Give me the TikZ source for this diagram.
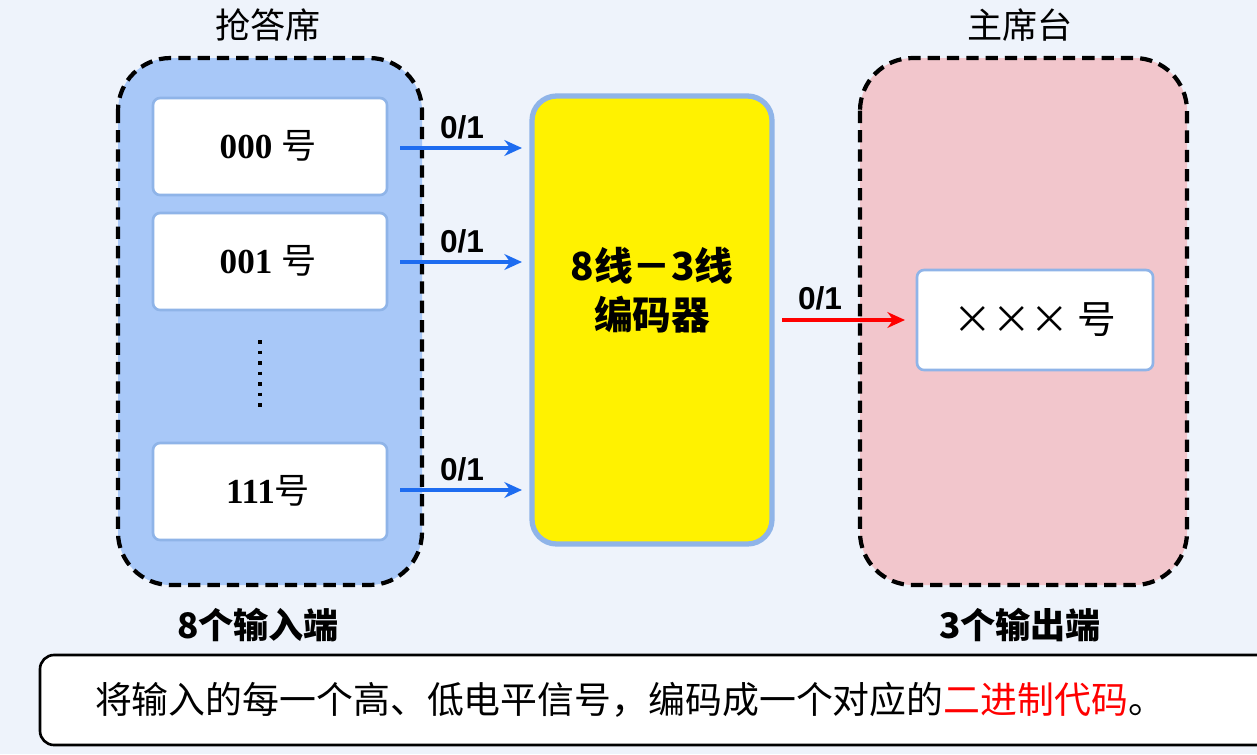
\documentclass[tikz,border=0pt]{standalone}
\usepackage{fontspec}
\setmainfont{Liberation Sans}
\newfontfamily\cjk{Noto Sans CJK SC}
\newfontfamily\serifnum{Liberation Serif}
\usetikzlibrary{arrows.meta}
\definecolor{bgblue}{HTML}{EEF3FB}
\definecolor{panelblue}{HTML}{A8C8F8}
\definecolor{edgeblue}{HTML}{8FB4E8}
\definecolor{panelpink}{HTML}{F2C6CC}
\definecolor{arrowblue}{HTML}{1E6CF0}
\tikzset{
  panel/.style = {draw=black, line width=2.4pt, dash pattern=on 7pt off 4pt, rounded corners=30pt},
  slot/.style = {draw=edgeblue, line width=1.5pt, fill=white, rounded corners=4pt},
  sig/.style = {-{Stealth[length=10pt,width=9pt]}, line width=2.4pt, draw=arrowblue},
  siglabel/.style = {font=\bfseries\fontsize{18}{18}\selectfont},
  title/.style = {font=\cjk\fontsize{20}{20}\selectfont},
}
\begin{document}
\begin{tikzpicture}[x=0.02cm, y=-0.02cm]
  \useasboundingbox (0,0) rectangle (1257,754);
  \fill[bgblue] (0,0) rectangle (1257,754);

  % input panel
  \filldraw[panel, fill=panelblue] (118,58) rectangle (422,585);
  \node[title] (intitle) at (268,25) {抢答席};
  \filldraw[slot] (153,98) rectangle (387,195);
  \node (in0) at (268,146) {\serifnum\bfseries\fontsize{20}{20}\selectfont 000 {\cjk\mdseries 号}};
  \filldraw[slot] (153,213) rectangle (387,310);
  \node (in1) at (268,261) {\serifnum\bfseries\fontsize{20}{20}\selectfont 001 {\cjk\mdseries 号}};
  \filldraw[slot] (153,443) rectangle (387,540);
  \node (in7) at (268,491) {\serifnum\bfseries\fontsize{20}{20}\selectfont 111{\cjk\mdseries 号}};
  \draw[line width=2pt, dash pattern=on 2pt off 4pt] (260,340) -- (260,410);
  \node[font=\cjk\bfseries\fontsize{20}{20}\selectfont] (incount) at (258,625) {8个输入端};

  % encoder
  \filldraw[draw=edgeblue, line width=3pt, fill=yellow, rounded corners=14pt] (532,96) rectangle (772,544);
  \node[font=\cjk\bfseries\fontsize{22}{22}\selectfont, align=center] (enc) at (652,290) {8线－3线\\[6pt]编码器};

  % input signals
  \foreach \y in {148,262,490} {
    \coordinate (a\y) at (400,\y);
    \coordinate (b\y) at (522,\y);
    \draw[sig] (a\y) -- (b\y);
    \node[siglabel] at (462,\y-21) {0/1};
  }

  % output panel
  \filldraw[panel, fill=panelpink] (860,58) rectangle (1187,585);
  \node[title] (outtitle) at (1020,25) {主席台};
  \filldraw[slot] (917,270) rectangle (1153,370);
  \node[font=\cjk\fontsize{22}{22}\selectfont] (out) at (1035,320) {××× 号};
  \node[font=\cjk\bfseries\fontsize{20}{20}\selectfont] (outcount) at (1020,625) {3个输出端};
  \coordinate (ra) at (782,320);
  \coordinate (rb) at (905,320);
  \draw[sig, draw=red] (ra) -- (rb);
  \node[siglabel] (rlabel) at (820,298) {0/1};

  % note
  \filldraw[draw=black, line width=1.5pt, fill=white, rounded corners=8pt] (40,655) rectangle (1275,745);
  \node[font=\cjk\fontsize{21}{21}\selectfont] (note) at (630,700) {将输入的每一个高、低电平信号，编码成一个对应的\textcolor{red}{二进制代码}。};
\end{tikzpicture}
\end{document}
